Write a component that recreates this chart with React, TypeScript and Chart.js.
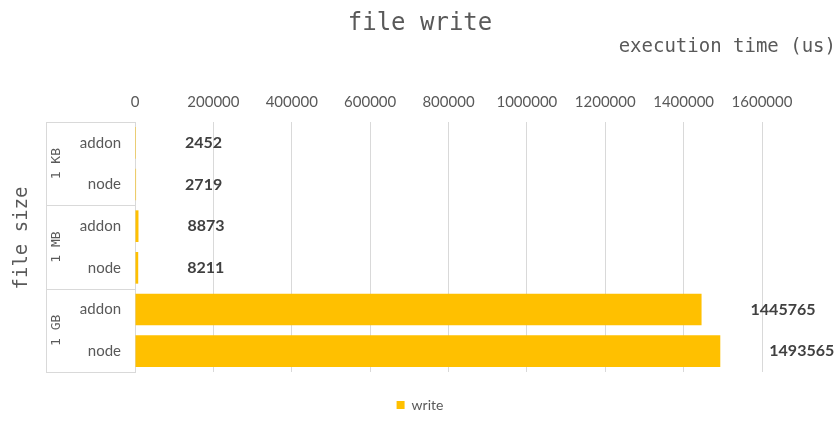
import React, { useEffect, useRef } from "react";
import { Chart, registerables } from "chart.js";

Chart.register(...registerables);

const categories = ["addon", "node", "addon", "node", "addon", "node"];
const groups = ["1 KB", "1 MB", "1 GB"];
const groupSizes = [2, 2, 2];
const writeValues = [2452, 2719, 8873, 8211, 1445765, 1493565];
const seriesName = "write";
const xMin = 0;
const xMax = 1600000;
const xStep = 200000;
const chartTitle = "file write";
const xTitle = "execution time (us)";
const yTitle = "file size";

const GRAY = "#595959";
const LINE = "#d9d9d9";
const BAR = "#FFC000";

const decorPlugin = {
  id: "decor",
  afterDraw(chart: any) {
    const ctx = chart.ctx;
    const area = chart.chartArea;
    const ys = chart.scales.y;
    ctx.save();
    // title
    ctx.fillStyle = GRAY;
    ctx.textAlign = "center";
    ctx.textBaseline = "middle";
    ctx.font = "24px 'DejaVu Sans Mono'";
    ctx.fillText(chartTitle, chart.width / 2, 24);
    // x axis title (top right)
    ctx.font = "19px 'DejaVu Sans Mono'";
    ctx.textAlign = "right";
    ctx.fillText(xTitle, chart.width - 4, 47);
    // y axis title (rotated)
    ctx.save();
    ctx.translate(22, 238);
    ctx.rotate(-Math.PI / 2);
    ctx.textAlign = "center";
    ctx.fillText(yTitle, 0, 0);
    ctx.restore();

    // group separators and labels
    const step = ys.getPixelForValue(1) - ys.getPixelForValue(0);
    const groupLeft = 46;
    ctx.strokeStyle = LINE;
    ctx.lineWidth = 1;
    let start = 0;
    const bounds: number[] = [];
    for (let g = 0; g < groups.length; g++) {
      const top = ys.getPixelForValue(start) - step / 2;
      const bottom = ys.getPixelForValue(start + groupSizes[g] - 1) + step / 2;
      bounds.push(top);
      if (g === groups.length - 1) bounds.push(bottom);
      ctx.save();
      ctx.translate(57, (top + bottom) / 2);
      ctx.rotate(-Math.PI / 2);
      ctx.font = "13px 'DejaVu Sans Mono'";
      ctx.fillStyle = GRAY;
      ctx.textAlign = "center";
      ctx.textBaseline = "middle";
      ctx.fillText(groups[g], 0, 0);
      ctx.restore();
      start += groupSizes[g];
    }
    ctx.beginPath();
    for (const b of bounds) {
      const yy = Math.round(b) + 0.5;
      ctx.moveTo(groupLeft, yy);
      ctx.lineTo(area.left, yy);
    }
    ctx.moveTo(groupLeft + 0.5, Math.round(bounds[0]));
    ctx.lineTo(groupLeft + 0.5, Math.round(bounds[bounds.length - 1]) + 1);
    ctx.stroke();

    // data labels
    const meta = chart.getDatasetMeta(0);
    ctx.font = "bold 16px Lato";
    ctx.fillStyle = "#404040";
    ctx.textAlign = "left";
    ctx.textBaseline = "middle";
    meta.data.forEach((bar: any, i: number) => {
      const v = chart.data.datasets[0].data[i];
      ctx.fillText(String(v), bar.x + 49, bar.y);
    });
    ctx.restore();
  },
};

export default function App() {
  const ref = useRef<HTMLCanvasElement>(null);
  useEffect(() => {
    if (!ref.current) return;
    const chart = new Chart(ref.current, {
      type: "bar",
      data: {
        labels: categories,
        datasets: [
          {
            label: seriesName,
            data: writeValues,
            backgroundColor: BAR,
            borderWidth: 0,
            categoryPercentage: 1,
            barPercentage: 0.76,
            xAxisID: "x",
            yAxisID: "y",
          },
        ],
      },
      options: {
        indexAxis: "y",
        animation: false,
        responsive: false,
        layout: { padding: { left: 0, right: 0, top: 0, bottom: 4 } },
        plugins: {
          title: { display: false },
          tooltip: { enabled: false },
          legend: {
            display: true,
            position: "bottom",
            labels: {
              boxWidth: 8,
              boxHeight: 8,
              padding: 10,
              color: GRAY,
              font: { family: "Lato", size: 14 },
            },
          },
        },
        scales: {
          x: {
            type: "linear",
            position: "top",
            min: xMin,
            max: xMax,
            ticks: {
              stepSize: xStep,
              color: GRAY,
              padding: 11,
              font: { family: "Lato", size: 15 },
              callback: (v: any) => String(v),
            },
            grid: { color: LINE, drawTicks: false },
            border: { display: false },
            afterFit: (s: any) => {
              s.height = 122;
            },
          },
          x2: {
            type: "linear",
            position: "bottom",
            display: true,
            ticks: { display: false },
            grid: { display: false, drawTicks: false },
            border: { display: false },
            afterFit: (s: any) => {
              s.height = 16;
            },
          },
          y: {
            type: "category",
            position: "left",
            ticks: {
              color: GRAY,
              padding: 14,
              font: { family: "Lato", size: 15 },
            },
            grid: { display: false, drawTicks: false },
            border: { display: true, color: LINE },
            afterFit: (s: any) => {
              s.width = 135;
            },
          },
          y2: {
            type: "linear",
            position: "right",
            display: true,
            ticks: { display: false },
            grid: { display: false, drawTicks: false },
            border: { display: false },
            afterFit: (s: any) => {
              s.width = 78;
            },
          },
        },
      },
      plugins: [decorPlugin],
    } as any);
    return () => chart.destroy();
  }, []);
  return (
    <div style={{ position: "absolute", left: 0, top: 0, width: 840, height: 426, background: "#fff" }}>
      <canvas ref={ref} width={840} height={426} />
    </div>
  );
}
